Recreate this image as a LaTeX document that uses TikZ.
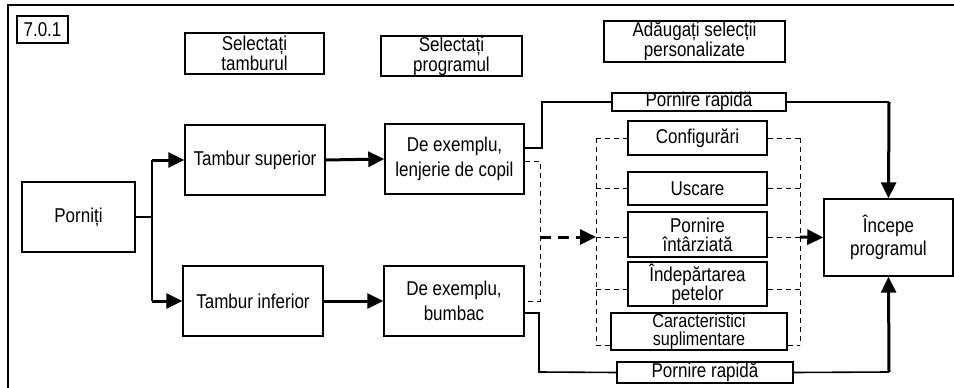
\documentclass[tikz,border=0pt]{standalone}
\usepackage{fontspec}
\setmainfont{Liberation Sans}[FakeStretch=0.85]
\usetikzlibrary{arrows.meta}
\tikzset{
  bx/.style={draw, line width=1.4pt, inner sep=0pt, align=center, font=\fontsize{20}{20}\selectfont},
  conn/.style={line width=1.6pt},
  thk/.style={line width=3pt, -{Triangle[length=16pt,width=15pt]}},
  dsh/.style={line width=1pt, dash pattern=on 5pt off 4pt},
  dshk/.style={line width=3pt, dash pattern=on 11pt off 7pt, -{Triangle[length=16pt,width=15pt]}},
}
\begin{document}
\begin{tikzpicture}[x=1pt,y=-1pt]
\useasboundingbox (0,0) rectangle (954,388);
% frame
\draw[line width=1.4pt] (8,388) -- (8,5) -- (954,5);
% header boxes
\node[bx, minimum width=51, minimum height=27] (n701) at (42.5,29.5) {7.0.1};
\node[bx, minimum width=139, minimum height=41] (selT) at (254.5,53.5) {Selectați\\tamburul};
\node[bx, minimum width=141, minimum height=40] (selP) at (451.5,56) {Selectați\\programul};
\node[bx, minimum width=181, minimum height=41] (addS) at (694.5,41.5) {Adăugați selecții\\personalizate};
% main boxes
\node[bx, minimum width=113, minimum height=70] (porn) at (78.5,217) {Porniți};
\node[bx, minimum width=140, minimum height=70] (tsup) at (255,160) {Tambur superior};
\node[bx, minimum width=140, minimum height=70] (tinf) at (253,301) {Tambur inferior};
\node[bx, minimum width=139, minimum height=70, font=\fontsize{20}{25}\selectfont] (exL) at (454.5,159) {De exemplu,\\lenjerie de copil};
\node[bx, minimum width=140, minimum height=70, font=\fontsize{20}{25}\selectfont] (exB) at (454,301) {De exemplu,\\bumbac};
\node[bx, minimum width=174, minimum height=18, text height=13pt, text depth=4pt] (prT) at (699,102) {Pornire rapidă};
\node[bx, minimum width=139, minimum height=34] (conf) at (697.5,138) {Configurări};
\node[bx, minimum width=139, minimum height=33] (usc) at (697.5,188.5) {Uscare};
\node[bx, minimum width=139, minimum height=45, font=\fontsize{20}{19}\selectfont] (pint) at (697.5,234.5) {Pornire\\întârziată};
\node[bx, minimum width=139, minimum height=44, font=\fontsize{20}{19}\selectfont] (indep) at (697.5,284) {Îndepărtarea\\petelor};
\node[bx, minimum width=176, minimum height=37, font=\fontsize{19}{18.5}\selectfont] (carac) at (699,331.5) {Caracteristici\\suplimentare};
\node[bx, minimum width=176, minimum height=21, text height=13pt, text depth=4pt] (prB) at (705,372.5) {Pornire rapidă};
\node[bx, minimum width=129, minimum height=77, font=\fontsize{20}{23}\selectfont] (inc) at (888.5,237.5) {Începe\\programul};
% junction coordinates
\coordinate (j0) at (152,217);
\coordinate (j1) at (152,160);
\coordinate (j2) at (152,301);
\coordinate (a1) at (542,148);
\coordinate (a2) at (542,102);
\coordinate (a3) at (889,102);
\coordinate (b1) at (539,313);
\coordinate (b2) at (539,372);
\coordinate (b3) at (889,372);
\coordinate (d1) at (540,161);
\coordinate (d2) at (540,301);
\coordinate (d3) at (540,237);
\coordinate (L1) at (596,138);
\coordinate (L2) at (596,345);
\coordinate (Lm) at (596,237);
\coordinate (R1) at (800,138);
\coordinate (R2) at (800,345);
\coordinate (Rm) at (800,237);
% solid connectors
\draw[conn] (porn.east) -- (j0);
\draw[conn] (j1) -- (j2);
\draw[thk] (j1) -- (tsup.west);
\draw[thk] (j2) -- (tinf.west);
\draw[thk] (tsup.east) -- (exL.west);
\draw[thk] (tinf.east) -- (exB.west);
\draw[conn] ([yshift=11pt]exL.east) -- (a1) -- (a2) -- (prT.west);
\draw[conn] (prT.east) -- (a3);
\draw[thk] (a3) -- (inc.north);
\draw[conn] ([yshift=-12pt]exB.east) -- (b1) -- (b2) -- (prB.west);
\draw[conn] (prB.east) -- (b3);
\draw[thk] (b3) -- (inc.south);
% dashed connectors
\draw[dsh] ([yshift=-2pt]exL.east) -- (d1) -- (d2) -- (exB.east);
\draw[dshk] (d3) -- (Lm);
\draw[dsh] (L1) -- (L2);
\draw[dsh] (R1) -- (R2);
\draw[dsh] (L1) -- (conf.west);
\draw[dsh] (conf.east) -- (R1);
\draw[dsh] (596,188.5) -- (usc.west);
\draw[dsh] (usc.east) -- (800,188.5);
\draw[dsh] (Lm) -- ([yshift=-2.5pt]pint.west);
\draw[dsh] ([yshift=-2.5pt]pint.east) -- (Rm);
\draw[dsh] (596,289) -- ([yshift=-5pt]indep.west);
\draw[dsh] ([yshift=-5pt]indep.east) -- (800,289);
\draw[dsh] (L2) -- ([yshift=-13.5pt]carac.west);
\draw[dsh] ([yshift=-13.5pt]carac.east) -- (R2);
\draw[dshk] (Rm) -- (inc.west);
\end{tikzpicture}
\end{document}
